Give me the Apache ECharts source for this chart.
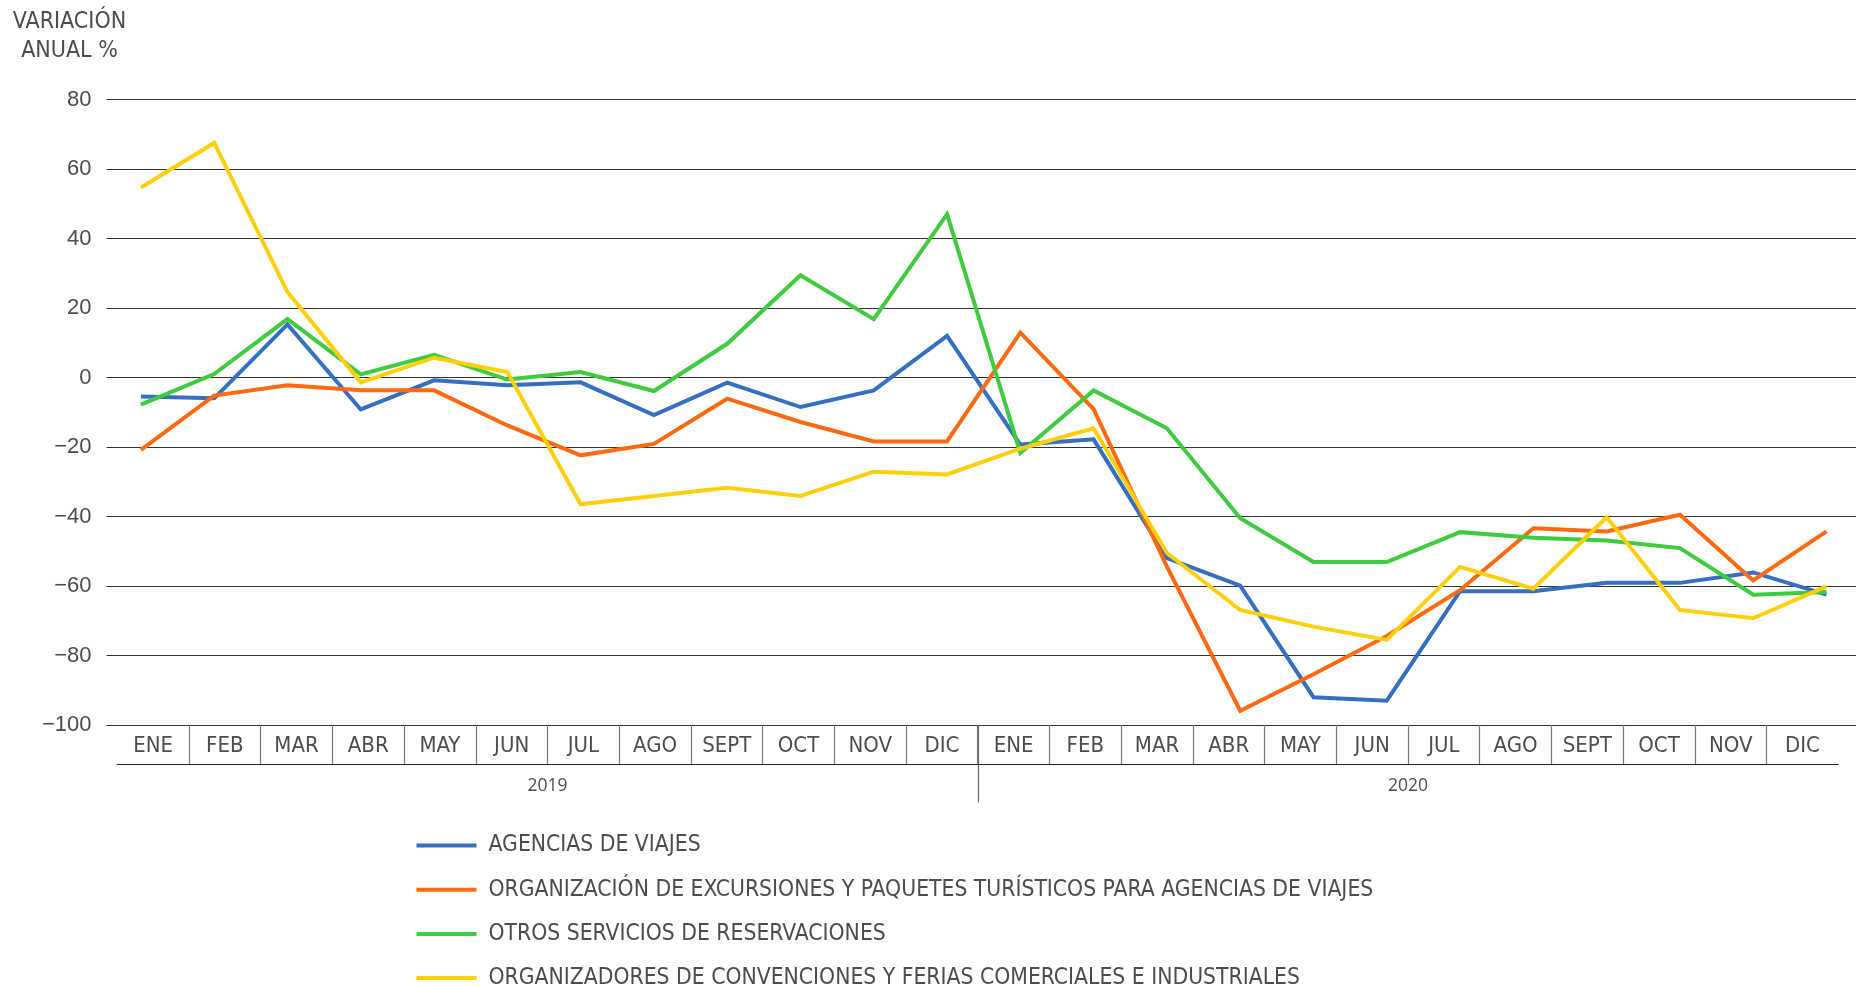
<!DOCTYPE html>
<html>
<head>
<meta charset="utf-8">
<script src="https://cdn.jsdelivr.net/npm/echarts@6/dist/echarts.min.js"></script>
<style>
html,body{margin:0;padding:0;background:#fff;}
#chart{width:1856px;height:987px;}
</style>
</head>
<body>
<div id="chart"></div>
<script>
const months = ['ENE','FEB','MAR','ABR','MAY','JUN','JUL','AGO','SEPT','OCT','NOV','DIC'];
const categories = months.concat(months);
const years = ['2019', '2020'];
const seriesNames = [
  'AGENCIAS DE VIAJES',
  'ORGANIZACIÓN DE EXCURSIONES Y PAQUETES TURÍSTICOS PARA AGENCIAS DE VIAJES',
  'OTROS SERVICIOS DE RESERVACIONES',
  'ORGANIZADORES DE CONVENCIONES Y FERIAS COMERCIALES E INDUSTRIALES'
];
const agencias = [-5.5, -6.0, 15.3, -9.2, -0.8, -2.2, -1.4, -10.8, -1.5, -8.5, -3.7, 12.0,
                  -19.3, -17.8, -52.0, -59.9, -92.0, -93.0, -61.5, -61.5, -59.1, -59.1, -56.1, -62.5];
const excursiones = [-20.8, -5.2, -2.2, -3.7, -3.7, -13.8, -22.4, -19.1, -6.1, -12.8, -18.4, -18.4,
                     12.9, -9.1, -54.4, -95.9, -85.4, -74.4, -61.2, -43.4, -44.3, -39.5, -58.4, -44.3];
const reservaciones = [-7.8, 1.0, 16.8, 0.9, 6.5, -0.6, 1.6, -3.9, 9.7, 29.4, 16.8, 47.0,
                       -21.7, -3.7, -14.6, -40.5, -53.1, -53.1, -44.5, -46.1, -46.9, -49.1, -62.5, -61.7];
const convenciones = [54.7, 67.5, 24.6, -1.4, 5.7, 1.6, -36.5, -34.1, -31.7, -34.1, -27.1, -27.9,
                      -20.5, -14.6, -50.5, -66.9, -71.7, -75.5, -54.5, -60.8, -40.2, -66.9, -69.3, -60.1];
const yMin = -100, yMax = 80, yStep = 20;

const colors = ['#356fc2', '#ff6a10', '#3ecb3e', '#ffcf0b'];
const values = [agencias, excursiones, reservaciones, convenciones];
const narrow = "'Liberation Sans Narrow', 'DejaVu Sans Condensed', sans-serif";
const textColor = '#4d4d4d';

const chart = echarts.init(document.getElementById('chart'), null, {renderer: 'canvas'});
const plotTop = 99.5, plotBottomY = 725;

const option = {
  animation: false,
  backgroundColor: '#fff',
  graphic: [{
    type: 'text', x: 69.5, y: 8,
    style: {
      text: 'VARIACIÓN\nANUAL %', align: 'center', verticalAlign: 'top',
      fontFamily: narrow, fontSize: 23, lineHeight: 29, fill: textColor
    }
  }],
  grid: [
    {left: 106.5, right: 0, top: plotTop, height: plotBottomY - plotTop},
    {left: 140.9, right: 29.5, top: plotTop, height: plotBottomY - plotTop},
    {left: 117.2, right: 17.7, top: plotBottomY, height: 39.5},
    {left: 117.2, right: 17.7, top: plotBottomY, height: 77.5}
  ],
  xAxis: [
    {gridIndex: 0, type: 'category', data: categories, show: false},
    {gridIndex: 1, type: 'category', data: categories, boundaryGap: false, show: false},
    {gridIndex: 2, type: 'category', data: categories, boundaryGap: true, position: 'bottom',
     axisLine: {show: true, lineStyle: {color: '#222', width: 1.2}},
     axisTick: {show: false},
     splitLine: {show: true, interval: 0, showMinLine: false, showMaxLine: false,
                 lineStyle: {color: '#7a7a7a', width: 1.2}},
     axisLabel: {inside: true, margin: 18, verticalAlign: 'middle', interval: 0,
                 fontFamily: narrow, fontSize: 22, color: textColor}},
    {gridIndex: 3, type: 'category', data: years, boundaryGap: true, position: 'bottom',
     axisLine: {show: false}, axisTick: {show: false},
     splitLine: {show: true, interval: 0, showMinLine: false, showMaxLine: false,
                 lineStyle: {color: '#666', width: 1.2}},
     axisLabel: {inside: true, margin: 16, verticalAlign: 'middle', interval: 0,
                 fontFamily: "'Open Sans', sans-serif", fontSize: 17.5, color: textColor}}
  ],
  yAxis: [
    {gridIndex: 0, type: 'value', min: yMin, max: yMax, interval: yStep,
     axisLine: {show: false}, axisTick: {show: false},
     splitLine: {show: true, lineStyle: {color: '#333', width: 1.2}},
     axisLabel: {margin: 15, fontFamily: "'Liberation Sans', sans-serif", fontSize: 22, color: textColor,
                 formatter: v => String(v).replace('-', '\u2212')}},
    {gridIndex: 1, type: 'value', min: yMin, max: yMax, interval: yStep, show: false, splitLine: {show: false}},
    {gridIndex: 2, type: 'value', show: false, splitLine: {show: false}},
    {gridIndex: 3, type: 'value', show: false, splitLine: {show: false}}
  ],
  legend: {
    orient: 'vertical', left: 416.5, top: 834, height: 220, width: 1000, padding: 0,
    icon: 'rect', itemWidth: 60, itemHeight: 4, itemGap: 21.2,
    textStyle: {fontFamily: narrow, fontSize: 22.7, color: textColor, padding: [0, 0, 0, 7]},
    data: seriesNames
  },
  series: seriesNames.map((name, i) => ({
    name: name, type: 'line', xAxisIndex: 1, yAxisIndex: 1,
    data: values[i], symbol: 'none', color: colors[i],
    itemStyle: {color: colors[i]},
    lineStyle: {color: colors[i], width: 4, join: 'miter'}
  }))
};
chart.setOption(option);
</script>
</body>
</html>
